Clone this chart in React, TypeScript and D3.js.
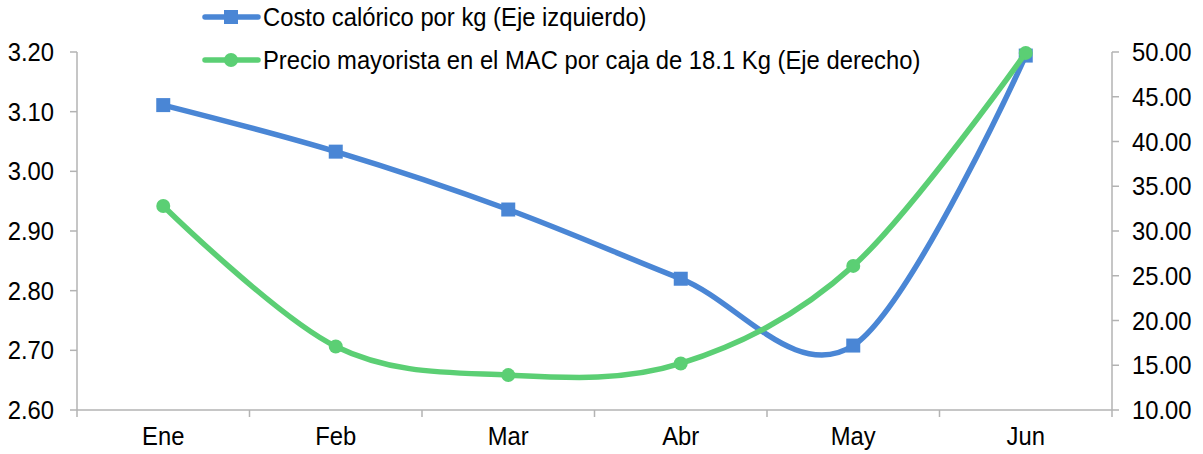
import React from "react";
import * as d3 from "d3";

const months = ["Ene", "Feb", "Mar", "Abr", "May", "Jun"];
const costoCalorico = [3.111, 3.033, 2.936, 2.82, 2.708, 3.194];
const precioMayorista = [32.8, 17.1, 13.9, 15.2, 26.1, 49.9];
const leftTicks = [2.6, 2.7, 2.8, 2.9, 3.0, 3.1, 3.2];
const rightTicks = [10, 15, 20, 25, 30, 35, 40, 45, 50];
const legendLabels = [
  "Costo calórico por kg (Eje izquierdo)",
  "Precio mayorista en el MAC por caja de 18.1 Kg (Eje derecho)",
];

const W = 1203;
const H = 454;
const left = 77;
const right = 1112;
const top = 52;
const bottom = 410;
const BLUE = "#4a86d5";
const GREEN = "#5bcf74";
const AXIS = "#b3b3b3";
const FONT = "'Liberation Sans', Arial, sans-serif";
const FS = 23.8;
const SY = 1.08;

export default function App() {
  const x = d3.scaleBand<string>().domain(months).range([left, right]);
  const xc = (m: string) => (x(m) as number) + x.bandwidth() / 2;
  const yL = d3.scaleLinear().domain([2.6, 3.2]).range([bottom, top]);
  const yR = d3.scaleLinear().domain([10, 50]).range([bottom, top]);
  const curve = d3.curveCatmullRom.alpha(0);
  const lineL = d3
    .line<number>()
    .x((_, i) => xc(months[i]))
    .y((d) => yL(d))
    .curve(curve);
  const lineR = d3
    .line<number>()
    .x((_, i) => xc(months[i]))
    .y((d) => yR(d))
    .curve(curve);
  const boundaries = months.map((m) => x(m) as number).concat([right]);

  const txt = (
    s: string,
    tx: number,
    ty: number,
    anchor: "start" | "middle" | "end",
    key?: string
  ) => (
    <text
      key={key}
      transform={`translate(${tx},${ty}) scale(1,${SY})`}
      textAnchor={anchor}
      fontFamily={FONT}
      fontSize={FS}
      fill="#000"
    >
      {s}
    </text>
  );

  return (
    <svg
      width={W}
      height={H}
      style={{ position: "absolute", left: 0, top: 0, background: "#fff" }}
    >
      {/* axes */}
      <line x1={left} x2={left} y1={top} y2={bottom} stroke={AXIS} strokeWidth={1.5} />
      <line x1={right} x2={right} y1={top} y2={bottom} stroke={AXIS} strokeWidth={1.5} />
      <line x1={left} x2={right} y1={bottom} y2={bottom} stroke={AXIS} strokeWidth={1.5} />
      {leftTicks.map((t) => (
        <g key={"l" + t}>
          <line x1={left - 7} x2={left} y1={yL(t)} y2={yL(t)} stroke={AXIS} strokeWidth={1.5} />
          {txt(t.toFixed(2), 54, yL(t) + 9, "end")}
        </g>
      ))}
      {rightTicks.map((t) => (
        <g key={"r" + t}>
          <line x1={right} x2={right + 7} y1={yR(t)} y2={yR(t)} stroke={AXIS} strokeWidth={1.5} />
          {txt(t.toFixed(2), 1132, yR(t) + 9, "start")}
        </g>
      ))}
      {boundaries.map((b, i) => (
        <line key={"b" + i} x1={b} x2={b} y1={bottom} y2={bottom + 7} stroke={AXIS} strokeWidth={1.5} />
      ))}
      {months.map((m) => txt(m, xc(m), 445, "middle", "m" + m))}

      {/* series */}
      <path d={lineL(costoCalorico) || ""} fill="none" stroke={BLUE} strokeWidth={5.5} />
      {costoCalorico.map((v, i) => (
        <rect key={"s" + i} x={xc(months[i]) - 7} y={yL(v) - 7} width={14} height={14} fill={BLUE} />
      ))}
      <path d={lineR(precioMayorista) || ""} fill="none" stroke={GREEN} strokeWidth={5.5} />
      {precioMayorista.map((v, i) => (
        <circle key={"c" + i} cx={xc(months[i])} cy={yR(v)} r={7} fill={GREEN} />
      ))}

      {/* legend */}
      <line x1={205} x2={258} y1={17} y2={17} stroke={BLUE} strokeWidth={5.5} strokeLinecap="round" />
      <rect x={224} y={10} width={14} height={14} fill={BLUE} />
      {txt(legendLabels[0], 263, 26, "start")}
      <line x1={205} x2={258} y1={60} y2={60} stroke={GREEN} strokeWidth={5.5} strokeLinecap="round" />
      <circle cx={231} cy={60} r={7} fill={GREEN} />
      {txt(legendLabels[1], 263, 69, "start")}
    </svg>
  );
}
